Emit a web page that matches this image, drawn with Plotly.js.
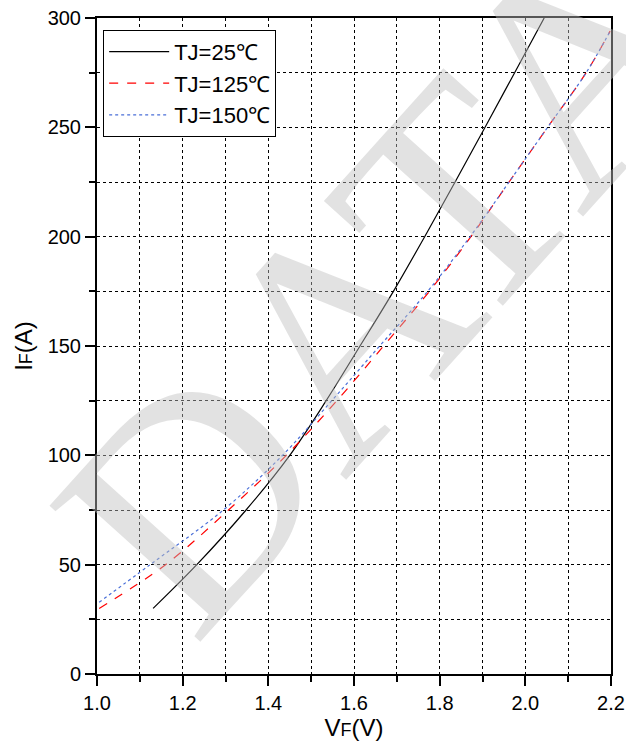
<!DOCTYPE html>
<html>
<head>
<meta charset="utf-8">
<script src="https://cdn.plot.ly/plotly-3.0.1.min.js"></script>
<style>html,body{margin:0;padding:0;background:#fff;}#chart{width:626px;height:743px;}</style>
</head>
<body>
<div id="chart"></div>
<script>
// Tj = 25 C
const vf25 = [1.131, 1.233, 1.348, 1.450, 1.535, 1.614, 1.692, 1.765, 1.836, 1.906, 1.975, 2.044];
const if25 = [30, 50, 75, 100, 125, 150, 175, 200, 225, 250, 275, 300];
// Tj = 125 C
const vf125 = [1.005, 1.160, 1.307, 1.442, 1.560, 1.669, 1.776, 1.873, 1.962, 2.052, 2.142, 2.198];
const if125 = [30, 50, 75, 100, 125, 150, 175, 200, 225, 250, 275, 294];
// Tj = 150 C
const vf150 = [1.005, 1.124, 1.295, 1.433, 1.548, 1.660, 1.772, 1.871, 1.962, 2.052, 2.142, 2.198];
const if150 = [32.8, 50, 75, 100, 125, 150, 175, 200, 225, 250, 275, 294];

const names = ["TJ=25℃", "TJ=125℃", "TJ=150℃"];
const xTicks = [1.0, 1.2, 1.4, 1.6, 1.8, 2.0, 2.2];
const xTickText = ["1.0", "1.2", "1.4", "1.6", "1.8", "2.0", "2.2"];
const yTicks = [0, 50, 100, 150, 200, 250, 300];

const FONT = "Liberation Sans, Arial, sans-serif";

const traces = [
  {x: vf25, y: if25, name: names[0], mode: "lines", line: {color: "#000000", width: 1.2, shape: "spline", smoothing: 1}},
  {x: vf125, y: if125, name: names[1], mode: "lines", line: {color: "#ff0000", width: 1.2, dash: "dash", shape: "spline", smoothing: 1}},
  {x: vf150, y: if150, name: names[2], mode: "lines", line: {color: "#4a6fd8", width: 1.2, dash: "dot", shape: "spline", smoothing: 1}}
];

const axisCommon = {
  showline: true, linecolor: "#000", linewidth: 2, mirror: true,
  ticks: "outside", ticklen: 10, tickwidth: 2, tickcolor: "#000",
  showgrid: true, gridcolor: "#000", gridwidth: 1, griddash: "dot",
  zeroline: false,
  tickfont: {family: FONT, size: 20, color: "#000"}
};

const layout = {
  width: 626, height: 743,
  margin: {l: 97, r: 15, t: 18, b: 69},
  paper_bgcolor: "#fff", plot_bgcolor: "#fff",
  showlegend: true,
  legend: {
    x: 0.012, y: 0.982, xanchor: "left", yanchor: "top",
    bgcolor: "#fff", bordercolor: "#000", borderwidth: 1,
    font: {family: FONT, size: 22, color: "#000"},
    itemwidth: 60,
    tracegroupgap: 0
  },
  xaxis: Object.assign({}, axisCommon, {
    range: [1.0, 2.2],
    tickvals: xTicks, ticktext: xTickText,
    minor: {dtick: 0.1, tick0: 1.0, ticks: "outside", ticklen: 6, tickwidth: 2, tickcolor: "#000",
            showgrid: true, gridcolor: "#000", gridwidth: 1, griddash: "dot"},
    title: {text: "V<span style='font-size:18px'>F</span>(V)", font: {family: FONT, size: 24, color: "#000"}, standoff: 4}
  }),
  yaxis: Object.assign({}, axisCommon, {
    range: [0, 300],
    tickvals: yTicks,
    minor: {dtick: 25, tick0: 0, ticks: "outside", ticklen: 6, tickwidth: 2, tickcolor: "#000",
            showgrid: true, gridcolor: "#000", gridwidth: 1, griddash: "dot"},
    title: {text: "I<span style='font-size:18px'>F</span>(A)", font: {family: FONT, size: 24, color: "#000"}, standoff: 8}
  }),
  annotations: [{
    text: "DATA", xref: "paper", yref: "paper", x: 0.56, y: 0.6,
    showarrow: false, textangle: -48,
    font: {family: "Liberation Serif, DejaVu Serif, serif", size: 310, color: "rgba(190,190,190,0.45)"}
  }]
};

Plotly.newPlot("chart", traces, layout, {displayModeBar: false, staticPlot: true});
</script>
</body>
</html>
